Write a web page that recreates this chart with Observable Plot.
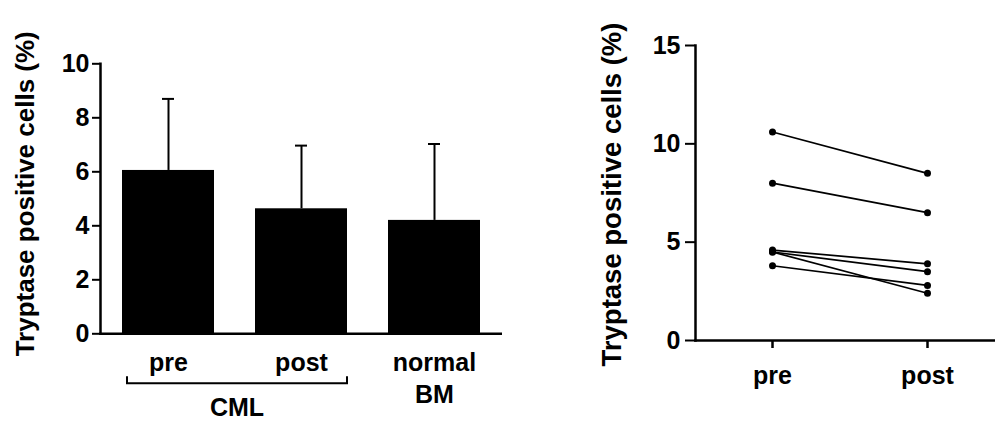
<!DOCTYPE html>
<html>
<head>
<meta charset="utf-8">
<script src="https://cdn.jsdelivr.net/npm/d3@7"></script>
<script src="https://cdn.jsdelivr.net/npm/@observablehq/plot@0.6"></script>
<style>
  html, body { margin: 0; padding: 0; background: #fff; }
  #wrap { position: relative; width: 995px; height: 421px; overflow: hidden; }
  #left, #right { position: absolute; top: 0; }
  #left { left: 0; }
  #right { left: 502px; }
</style>
</head>
<body>
<div id="wrap"><div id="left"></div><div id="right"></div></div>
<script>
// ---- data: left panel (bar chart, mean + SD) ----
const groups = ["pre", "post", "normal\nBM"];
const means = [6.05, 4.63, 4.2];
const sds = [2.65, 2.34, 2.83];
const yTicksLeft = [0, 2, 4, 6, 8, 10];
const bracketGroups = ["pre", "post"];
const bracketLabel = "CML";
const yLabel = "Tryptase positive cells (%)";

// ---- data: right panel (paired pre/post) ----
const timepoints = ["pre", "post"];
const preValues = [10.6, 8.0, 4.6, 4.5, 4.5, 3.8];
const postValues = [8.5, 6.5, 3.9, 3.5, 2.4, 2.8];
const yTicksRight = [0, 5, 10, 15];

const font = "'Liberation Sans', Arial, Helvetica, sans-serif";
const baseStyle = {fontFamily: font, fontWeight: "bold", fontSize: "24px", color: "black", background: "white", overflow: "visible"};

const bars = groups.map((g, i) => ({g, mean: means[i], top: means[i] + sds[i]}));

function bracketMark(index, scales, values, dimensions) {
  const x = scales.x;
  const x0 = x(bracketGroups[0]), x1 = x(bracketGroups[1]);
  let bw = x.bandwidth;
  if (typeof bw === "function") bw = bw.call(x);
  if (!(bw > 0)) bw = (x1 - x0) * (1 - 0.306);
  const left = x0 + 5, right = x1 + bw;
  const base = dimensions.height - dimensions.marginBottom;
  const g = d3.create("svg:g");
  g.append("path")
    .attr("d", `M${left},${base + 43}V${base + 50}H${right}V${base + 43}`)
    .attr("fill", "none").attr("stroke", "black").attr("stroke-width", 2);
  g.append("text")
    .attr("x", (left + right) / 2).attr("y", base + 83)
    .attr("text-anchor", "middle")
    .attr("font-size", 25).attr("font-weight", "bold").attr("font-family", font)
    .attr("fill", "black")
    .text(bracketLabel);
  return g.node();
}

const left = Plot.plot({
  width: 502, height: 421,
  marginLeft: 100, marginRight: 0, marginTop: 63.3, marginBottom: 87.7,
  style: baseStyle,
  x: {domain: groups, range: [121.7, 480.8], paddingInner: 0.306, paddingOuter: 0, align: 0, axis: null},
  y: {domain: [0, 10], axis: null},
  marks: [
    Plot.ruleX(bars, {x: "g", y1: "mean", y2: "top", strokeWidth: 2}),
    Plot.tickY(bars, {x: "g", y: "top", insetLeft: 40, insetRight: 40, strokeWidth: 2}),
    Plot.barY(bars, {x: "g", y: "mean", fill: "black"}),
    Plot.axisY({ticks: yTicksLeft, tickSize: 8, tickPadding: 3, strokeWidth: 2, fontSize: 25, label: null}),
    Plot.frame({anchor: "left", strokeWidth: 2.5}),
    Plot.frame({anchor: "bottom", strokeWidth: 2.5}),
    Plot.text(bars, {x: "g", text: "g", frameAnchor: "bottom", lineAnchor: "top", dy: 15.3, fontSize: 25, lineHeight: 1.26}),
    bracketMark,
    Plot.text([yLabel], {frameAnchor: "left", textAnchor: "middle", rotate: -90, dx: -75, dy: -5, fontSize: 26})
  ]
});
document.getElementById("left").append(left);

const pairs = preValues.map((v, i) => ({pre: v, post: postValues[i]}));
const points = pairs.flatMap(p => timepoints.map(t => ({t, v: p[t]})));

const right = Plot.plot({
  width: 493, height: 421,
  marginLeft: 193, marginRight: 0, marginTop: 45, marginBottom: 81,
  style: baseStyle,
  x: {domain: timepoints, type: "point", range: [269.7, 424.7], padding: 0, axis: null},
  y: {domain: [0, 15], axis: null},
  marks: [
    Plot.axisY({ticks: yTicksRight, tickSize: 10, tickPadding: 5, strokeWidth: 2, fontSize: 25, label: null}),
    Plot.axisX({tickSize: 8, tickPadding: 17.4, strokeWidth: 2.5, fontSize: 25, label: null}),
    Plot.frame({anchor: "left", strokeWidth: 2.5}),
    Plot.frame({anchor: "bottom", strokeWidth: 2.5}),
    Plot.link(pairs, {x1: () => timepoints[0], x2: () => timepoints[1], y1: "pre", y2: "post", strokeWidth: 1.7}),
    Plot.dot(points, {x: "t", y: "v", r: 3.5, fill: "black"}),
    Plot.text([yLabel], {frameAnchor: "left", textAnchor: "middle", rotate: -90, dx: -83.3, dy: 1.5, fontSize: 27.5})
  ]
});
document.getElementById("right").append(right);
</script>
</body>
</html>
